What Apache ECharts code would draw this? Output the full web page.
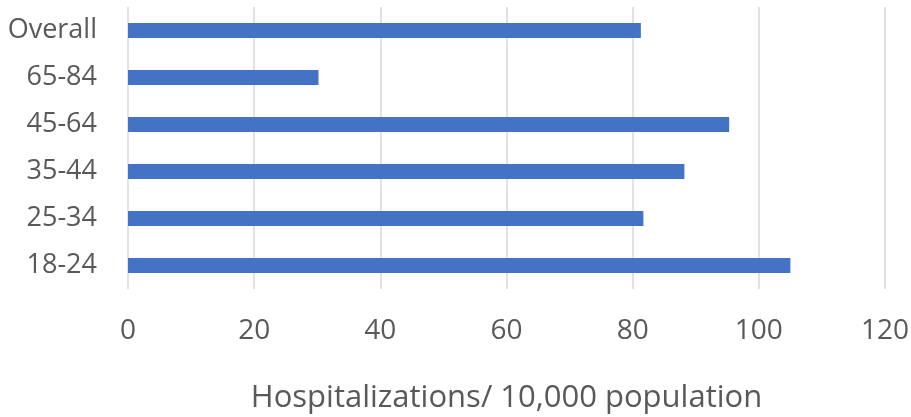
<!DOCTYPE html>
<html><head><meta charset="utf-8">
<script src="https://cdn.jsdelivr.net/npm/echarts@6/dist/echarts.min.js"></script>
<style>html,body{margin:0;padding:0;background:#fff}#c{width:911px;height:417px}</style>
</head><body><div id="c"></div>
<script>
const categories = ["18-24", "25-34", "35-44", "45-64", "65-84", "Overall"];
const values = [105.0, 81.7, 88.2, 95.3, 30.2, 81.3];
const xTicks = [0, 20, 40, 60, 80, 100, 120];
const axisTitle = "Hospitalizations/ 10,000 population";

const chart = echarts.init(document.getElementById('c'));
chart.setOption({
  animation: false,
  grid: {left: 128, right: 26, top: 7, bottom: 128, containLabel: false, outerBoundsMode: 'none'},
  xAxis: {
    type: 'value', min: xTicks[0], max: xTicks[xTicks.length-1], interval: 20,
    name: axisTitle, nameLocation: 'middle', nameGap: 94,
    nameTextStyle: {fontFamily: 'Open Sans', fontSize: 31, color: '#595959', verticalAlign: 'top'},
    axisLine: {show: false}, axisTick: {show: false},
    axisLabel: {margin: 28, fontFamily: 'Open Sans', fontSize: 28, color: '#595959'},
    splitLine: {show: true, lineStyle: {color: '#d9d9d9', width: 1.5}}
  },
  yAxis: {
    type: 'category', data: categories,
    axisLine: {show: false}, axisTick: {show: false},
    axisLabel: {margin: 31, fontFamily: 'Open Sans', fontSize: 27, color: '#595959'}
  },
  series: [{
    type: 'bar', data: values, barWidth: 15,
    itemStyle: {color: '#4472C4'}
  }]
});
</script></body></html>
